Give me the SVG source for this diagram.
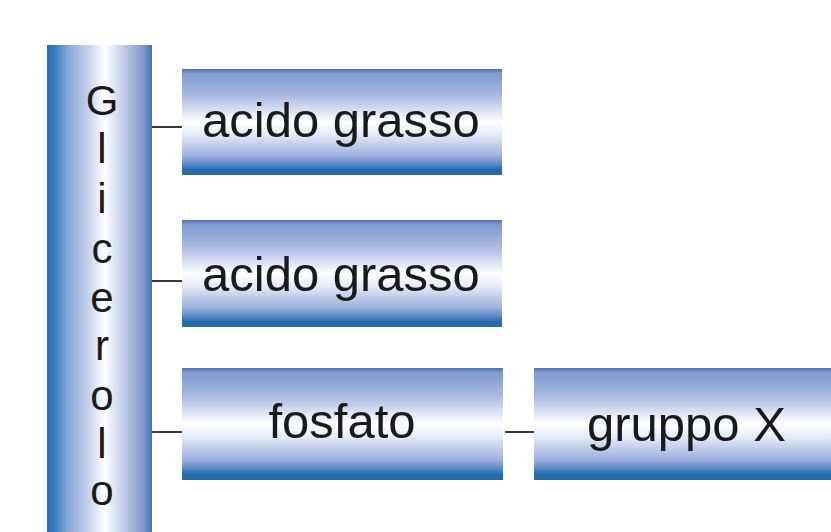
<svg xmlns="http://www.w3.org/2000/svg" width="831" height="532" viewBox="0 0 831 532">
<defs>
<linearGradient id="gv" x1="0" y1="0" x2="0" y2="1">
<stop offset="0" stop-color="#4f6fa6"/>
<stop offset="0.04" stop-color="#7f9bd0"/>
<stop offset="0.25" stop-color="#a9b9e0"/>
<stop offset="0.5" stop-color="#ffffff"/>
<stop offset="0.62" stop-color="#e4eaf6"/>
<stop offset="0.82" stop-color="#9cb0dc"/>
<stop offset="0.9" stop-color="#5c88c4"/>
<stop offset="0.95" stop-color="#1e6cb0"/>
<stop offset="1" stop-color="#2c6aa6"/>
</linearGradient>
<linearGradient id="gh" x1="0" y1="0" x2="1" y2="0">
<stop offset="0" stop-color="#1f6db2"/>
<stop offset="0.08" stop-color="#3a7ec0"/>
<stop offset="0.2" stop-color="#8aa6d6"/>
<stop offset="0.4" stop-color="#c8d3ec"/>
<stop offset="0.55" stop-color="#ffffff"/>
<stop offset="0.75" stop-color="#b8c6e6"/>
<stop offset="0.92" stop-color="#7b96c8"/>
<stop offset="1" stop-color="#3f76b4"/>
</linearGradient>
<style>
.box{fill:url(#gv)}
.col{fill:url(#gh)}
.lbl{font-family:"Liberation Sans",Arial,sans-serif;font-size:49px;fill:#1a1a1a}
.gl{font-family:"Liberation Sans",Arial,sans-serif;font-size:42px;fill:#1a1a1a;text-anchor:middle}
.con{stroke:#3a3a3a;stroke-width:2;fill:none}
</style>
</defs>
<rect width="831" height="532" fill="#ffffff"/>
<g id="connectors">
<line class="con" x1="152" y1="127" x2="182" y2="127"/>
<line class="con" x1="152" y1="281" x2="182" y2="281"/>
<line class="con" x1="152" y1="432" x2="182" y2="432"/>
<line class="con" x1="505" y1="432" x2="536" y2="432"/>
</g>
<g id="glicerolo">
<rect class="col" x="47" y="45" width="105" height="487"/>
<text class="gl" x="102" y="115">G</text>
<text class="gl" x="102" y="163">l</text>
<text class="gl" x="102" y="213">i</text>
<text class="gl" x="102" y="263">c</text>
<text class="gl" x="102" y="312">e</text>
<text class="gl" x="102" y="360">r</text>
<text class="gl" x="102" y="410">o</text>
<text class="gl" x="102" y="458">l</text>
<text class="gl" x="102" y="505">o</text>
</g>
<g id="acido1">
<rect class="box" x="182" y="69" width="320" height="106"/>
<text class="lbl" x="202" y="137">acido grasso</text>
</g>
<g id="acido2">
<rect class="box" x="182" y="220" width="320" height="107"/>
<text class="lbl" x="202" y="291">acido grasso</text>
</g>
<g id="fosfato">
<rect class="box" x="182" y="368" width="321" height="112"/>
<text class="lbl" x="342" y="438" text-anchor="middle">fosfato</text>
</g>
<g id="gruppoX">
<rect class="box" x="534" y="368" width="297" height="112"/>
<text class="lbl" x="587" y="441">gruppo X</text>
</g>
</svg>
